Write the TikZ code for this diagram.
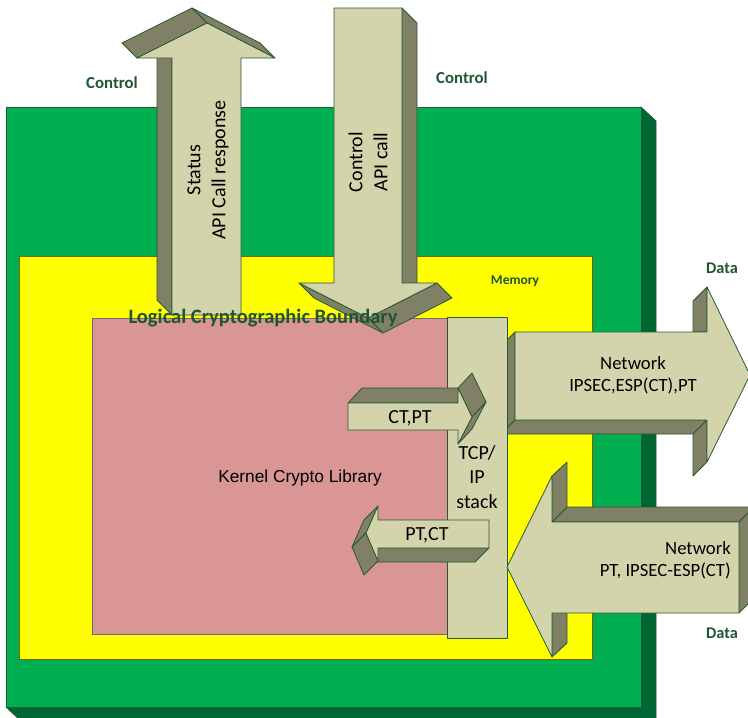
\documentclass[tikz,border=0pt]{standalone}
\usepackage{fontspec}
\setmainfont{Carlito}
\newfontfamily\arialfont{Liberation Sans}
\definecolor{grfront}{RGB}{0,176,80}
\definecolor{grside}{RGB}{0,102,51}
\definecolor{yel}{RGB}{255,255,0}
\definecolor{yeledge}{RGB}{128,100,0}
\definecolor{pinkf}{RGB}{217,150,148}
\definecolor{pinkedge}{RGB}{110,110,100}
\definecolor{tanf}{RGB}{212,212,172}
\definecolor{tans}{RGB}{128,128,102}
\definecolor{edge}{RGB}{40,90,50}
\definecolor{lblgreen}{RGB}{30,85,50}
\tikzset{
  face/.style={fill=tanf, draw=edge, line width=0.8pt, line join=round},
  sideface/.style={fill=tans, draw=edge, line width=0.8pt, line join=round},
  lbl/.style={text=lblgreen, inner sep=0pt, font=\bfseries\fontsize{16.8}{20}\selectfont},
  arrtxt/.style={inner sep=0pt, text=black, font=\fontsize{20}{25}\selectfont},
  nettxt/.style={inner sep=0pt, text=black, font=\fontsize{18.7}{22}\selectfont}
}
\begin{document}
\begin{tikzpicture}[x=1pt,y=-1pt]
\useasboundingbox (0,0) rectangle (748,718);
\clip (0,0) rectangle (748,718);
% green module box (3D)
\draw[fill=grside, draw=edge, line width=0.8pt, line join=round] (641,107) -- (656,121) -- (656,721) -- (21,721) -- (6,707) -- cycle;
\draw[fill=grfront, draw=edge, line width=0.8pt] (6,107) rectangle (641,707);
% memory
\draw[fill=yel, draw=yeledge, line width=0.8pt] (19,256) rectangle (592,659);
% logical crypto boundary
\draw[fill=pinkf, draw=pinkedge, line width=0.8pt] (92,318) rectangle (447,634);
% Status arrow (up)
\draw[sideface] (172,315) -- (172,58) -- (157,43) -- (157,300) -- cycle;
\draw[sideface] (207,23) -- (275,58) -- (260,43) -- (192,8) -- cycle;
\draw[sideface] (137,58) -- (207,23) -- (192,8) -- (122,43) -- cycle;
\draw[face] (172,315) -- (172,58) -- (137,58) -- (207,23) -- (275,58) -- (241,58) -- (241,315) -- cycle;
% Control arrow (down)
\draw[sideface] (402,8) -- (417,23) -- (417,298) -- (402,283) -- cycle;
\draw[sideface] (368,318) -- (437,283) -- (452,298) -- (383,333) -- cycle;
\draw[sideface] (299,283) -- (368,318) -- (383,333) -- (314,298) -- cycle;
\draw[face] (334,8) -- (402,8) -- (402,283) -- (437,283) -- (368,318) -- (299,283) -- (334,283) -- cycle;
% Network out arrow
\draw[sideface] (515,332) -- (515,420) -- (501,434) -- (501,346) -- cycle;
\draw[sideface] (515,420) -- (707,420) -- (693,434) -- (501,434) -- cycle;
\draw[sideface] (707,287) -- (693,301) -- (693,332) -- (707,332) -- cycle;
\draw[sideface] (707,420) -- (707,462) -- (693,476) -- (693,434) -- cycle;
\draw[face] (515,332) -- (707,332) -- (707,287) -- (750,375) -- (707,462) -- (707,420) -- (515,420) -- cycle;
% TCP/IP stack
\draw[face] (447,317) rectangle (507,638);
% Network in arrow
\draw[sideface] (552,522) -- (567,507) -- (754,507) -- (739,522) -- cycle;
\draw[sideface] (739,522) -- (754,507) -- (754,598) -- (739,613) -- cycle;
\draw[sideface] (552,476) -- (567,462) -- (567,507) -- (552,522) -- cycle;
\draw[sideface] (552,613) -- (567,598) -- (567,643) -- (552,657) -- cycle;
\draw[face] (739,522) -- (552,522) -- (552,476) -- (507,567) -- (552,657) -- (552,613) -- (739,613) -- cycle;
% CT,PT arrow
\draw[sideface] (348,403) -- (362,388) -- (472,388) -- (458,403) -- cycle;
\draw[sideface] (458,388) -- (472,373) -- (486,402) -- (472,417) -- cycle;
\draw[sideface] (472,417) -- (486,402) -- (472,429) -- (458,444) -- cycle;
\draw[face] (348,403) -- (458,403) -- (458,388) -- (472,417) -- (458,444) -- (458,430) -- (348,430) -- cycle;
% PT,CT arrow
\draw[sideface] (489,548) -- (475,562) -- (364,562) -- (378,548) -- cycle;
\draw[sideface] (378,506) -- (364,520) -- (352,547) -- (366,533) -- cycle;
\draw[sideface] (366,533) -- (352,547) -- (364,575) -- (378,561) -- cycle;
\draw[face] (489,520) -- (378,520) -- (378,506) -- (366,533) -- (378,561) -- (378,548) -- (489,548) -- cycle;
% texts
\node[lbl, anchor=base] (ctlL) at (112,88) {Control};
\node[lbl, anchor=base] (ctlR) at (462,83) {Control};
\node[lbl, anchor=base, font=\bfseries\fontsize{13.5}{16}\selectfont] (mem) at (515,284) {Memory};
\node[lbl, anchor=base, font=\bfseries\fontsize{16.3}{20}\selectfont] (dataT) at (722,273) {Data};
\node[lbl, anchor=base, font=\bfseries\fontsize{16.3}{20}\selectfont] (dataB) at (722,638) {Data};
\node[lbl, anchor=base, font=\bfseries\fontsize{20.5}{24}\selectfont] (lcb) at (263,323) {Logical Cryptographic Boundary};
\node[anchor=base, inner sep=0pt, font=\arialfont\fontsize{17.3}{20}\selectfont] (kcl) at (300,482) {Kernel Crypto Library};
\node[arrtxt, rotate=90, align=center] (stat) at (208,170) {Status\\API Call response};
\node[arrtxt, rotate=90, align=center] (ctrl) at (368,162) {Control\\API call};
\node[arrtxt, anchor=base] (ctpt) at (410,423) {CT,PT};
\node[arrtxt, anchor=base] (ptct) at (427,540) {PT,CT};
\node[arrtxt, align=center, font=\fontsize{20}{24.5}\selectfont] (tcp) at (477,477) {TCP/\\IP\\stack};
\node[nettxt, align=center] (netout) at (633,375) {Network\\IPSEC,ESP(CT),PT};
\node[nettxt, align=right, anchor=east] (netin) at (731,560) {Network\\PT, IPSEC-ESP(CT)};
\end{tikzpicture}
\end{document}
